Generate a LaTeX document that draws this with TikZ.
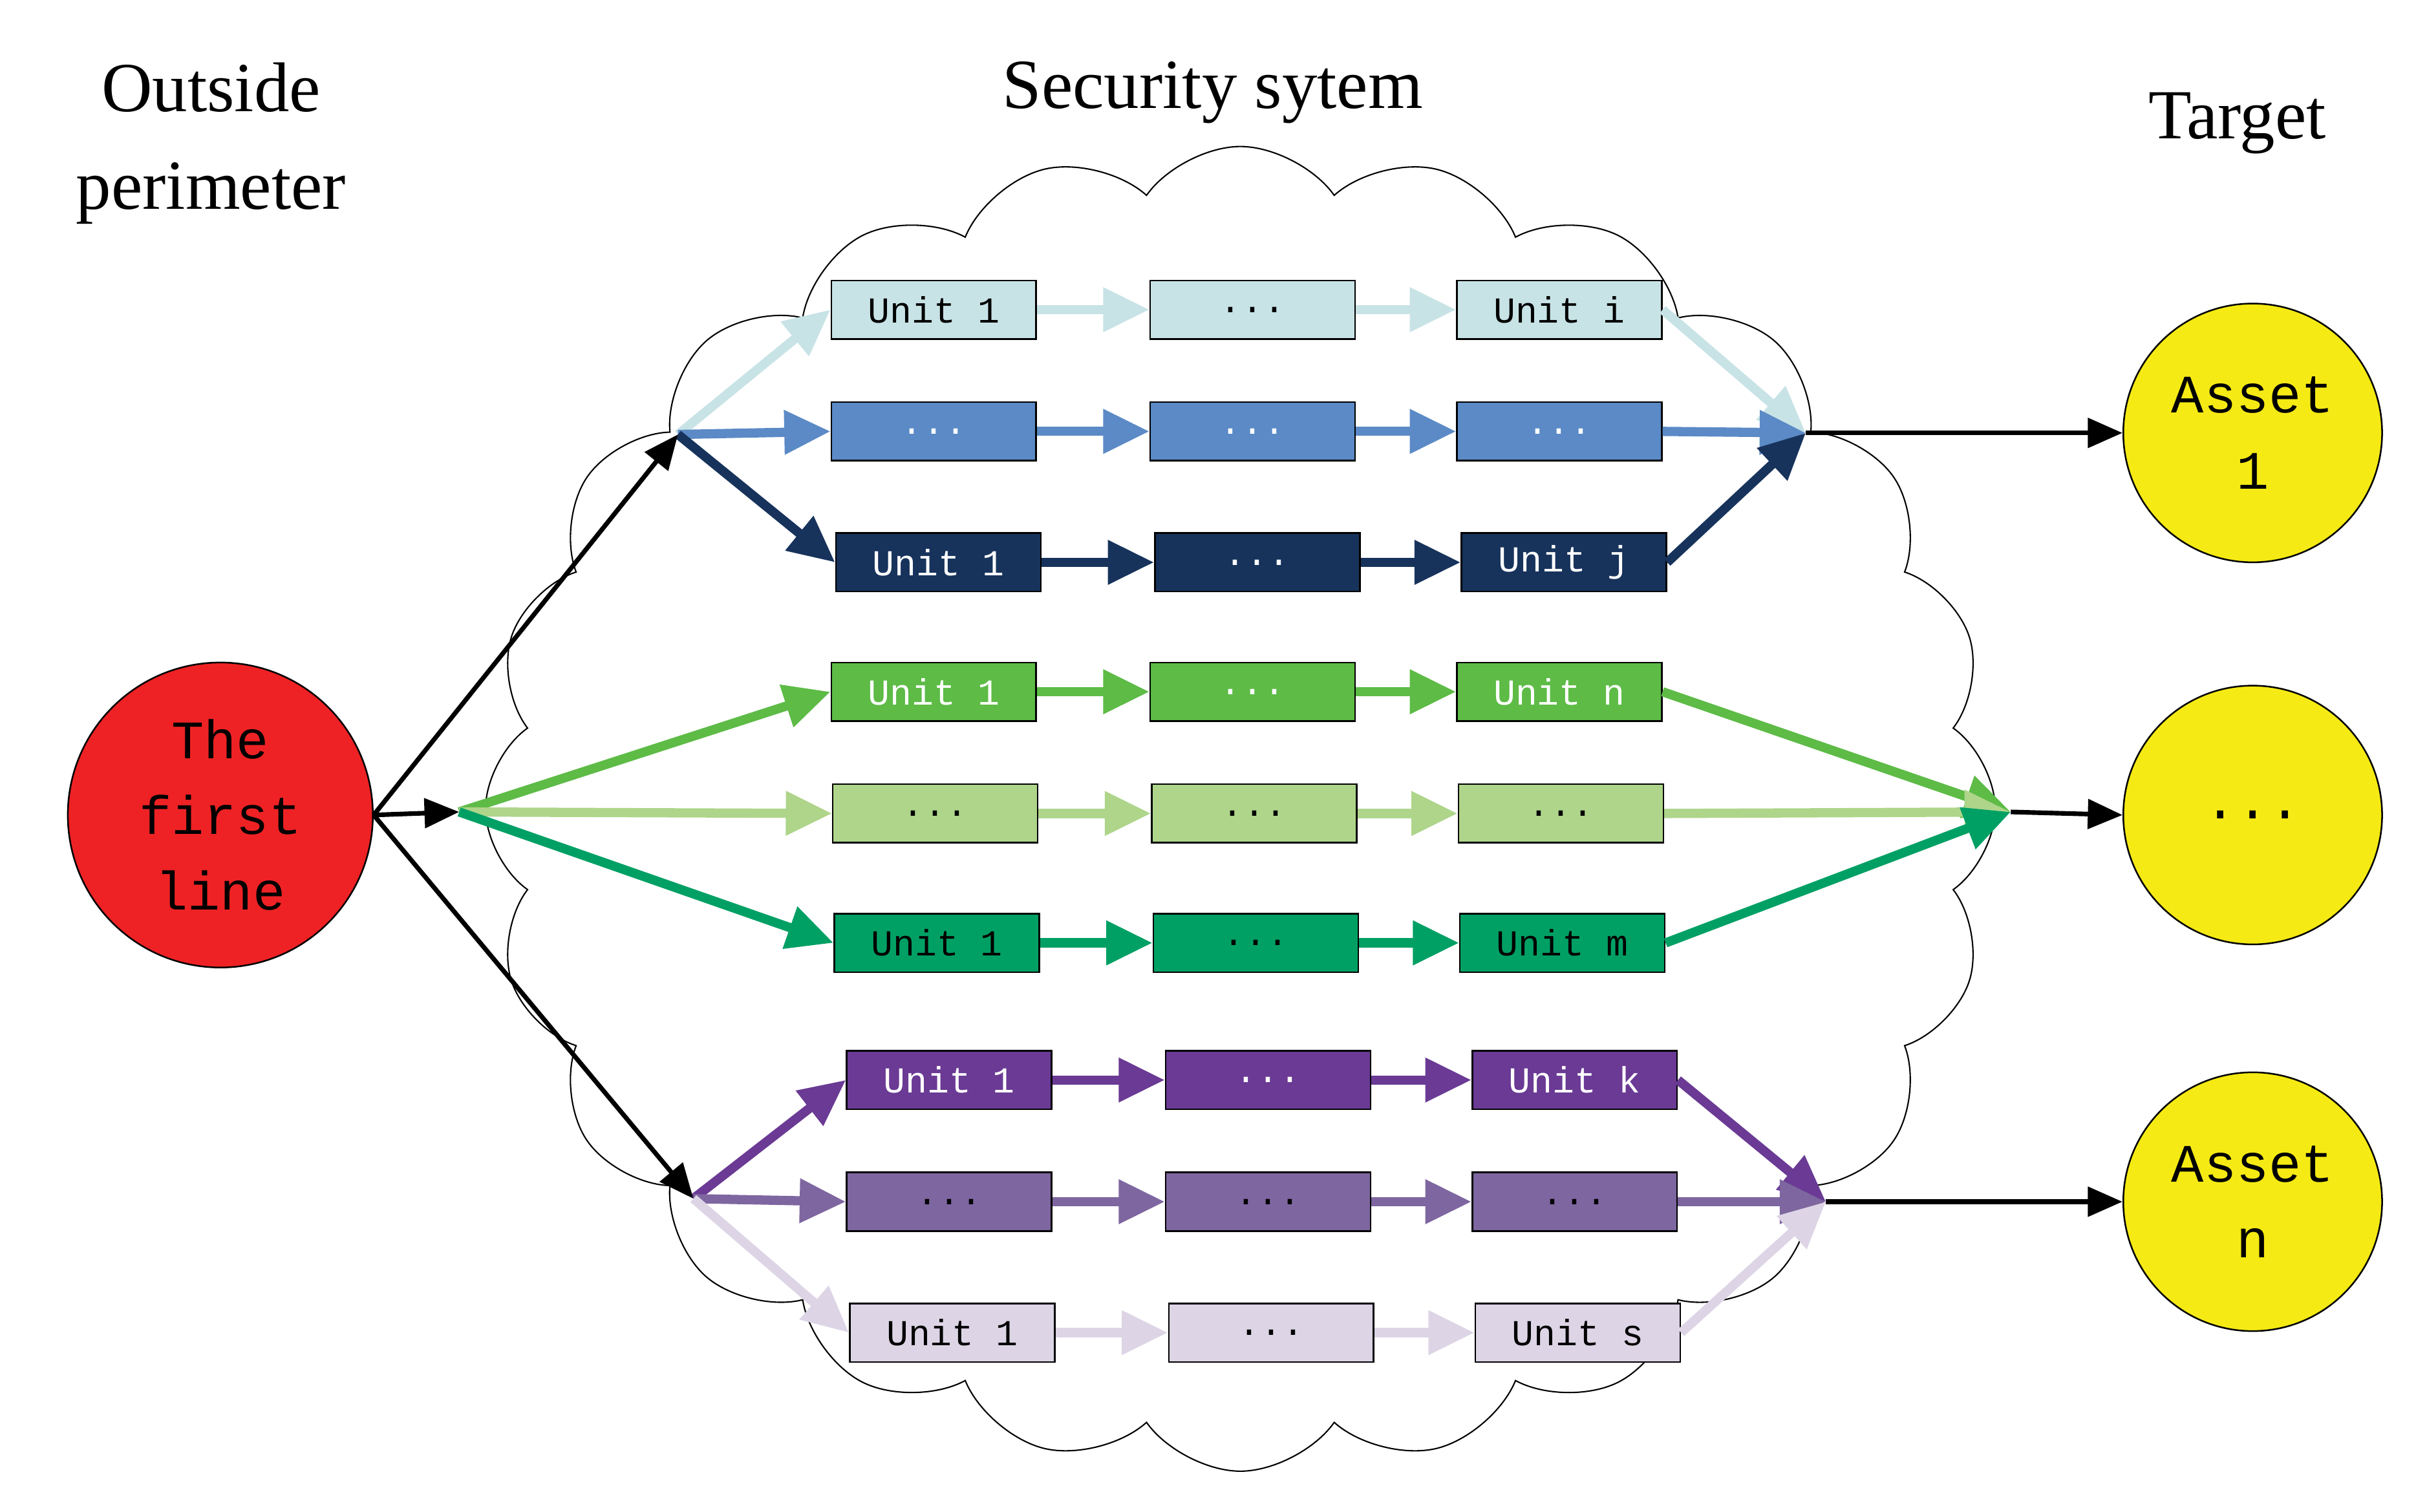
\documentclass[tikz,border=0pt]{standalone}
\usepackage{fontspec}
\setmainfont{Liberation Serif}
\newfontfamily\monof{Liberation Mono}
\usetikzlibrary{shapes.symbols,arrows.meta}
\newcommand{\dts}{...}
\definecolor{cA}{HTML}{C8E3E6}
\definecolor{cB}{HTML}{5B8AC6}
\definecolor{cC}{HTML}{17335C}
\definecolor{cD}{HTML}{5DBB46}
\definecolor{cE}{HTML}{AED58A}
\definecolor{cF}{HTML}{00A064}
\definecolor{cG}{HTML}{6A3A94}
\definecolor{cH}{HTML}{7E66A0}
\definecolor{cI}{HTML}{DDD5E6}
\definecolor{cRed}{HTML}{EE2224}
\definecolor{cYel}{HTML}{F5EA14}
\begin{document}
\begin{tikzpicture}[x=0.02cm,y=-0.02cm,
  box/.style={draw=black,line width=0.6pt,minimum width=2.66cm,minimum height=0.76cm,inner sep=0pt,font=\monof\fontsize{13.5}{16}\selectfont},
  arr/.style={line width=0.12cm,-{Triangle[length=0.6cm,width=0.55cm]}},
  blk/.style={line width=0.06cm,-{Triangle[length=0.45cm,width=0.38cm]}},
  title/.style={font=\fontsize{26}{36}\selectfont,align=center},
  circ/.style={circle,draw=black,line width=0.6pt,font=\monof\fontsize{20}{28}\selectfont,align=center,inner sep=0pt}]
\useasboundingbox (0,0) rectangle (1568,981);
\node[title] (t1) at (137,93) {Outside\\perimeter};
\node[title] (t2) at (787,60) {Security sytem};
\node[title] (t3) at (1452,80) {Target};
\node[cloud,draw=black,line width=0.5pt,cloud puffs=24,cloud puff arc=110,aspect=1.15,minimum width=19.6cm,minimum height=17.2cm] (cl) at (805,525) {};
\node[circ,fill=cRed,minimum size=3.96cm] (red) at (143,529) {The\\first\\line};
\node[circ,fill=cYel,minimum size=3.36cm] (a1) at (1462,281) {Asset\\1};
\node[circ,fill=cYel,minimum size=3.36cm] (a2) at (1462,529) {\dts};
\node[circ,fill=cYel,minimum size=3.36cm] (a3) at (1462,780) {Asset\\n};
\coordinate (bu) at (440,282);
\coordinate (bm) at (298,527);
\coordinate (bl) at (450,778);
\coordinate (mu) at (1172,281);
\coordinate (mm) at (1305,527);
\coordinate (ml) at (1185,780);
\foreach \r/\y/\dx/\c/\tc/\la/\lb/\lc/\m/\b in {
 1/201/0/cA/black/Unit 1/\dts/Unit i/mu/bu,
 2/280/0/cB/white/\dts/\dts/\dts/mu/bu,
 3/365/3/cC/white/Unit 1/\dts/Unit j/mu/bu,
 4/449/0/cD/white/Unit 1/\dts/Unit n/mm/bm,
 5/528/1/cE/black/\dts/\dts/\dts/mm/bm,
 6/612/2/cF/black/Unit 1/\dts/Unit m/mm/bm,
 7/701/10/cG/white/Unit 1/\dts/Unit k/ml/bl,
 8/780/10/cH/black/\dts/\dts/\dts/ml/bl,
 9/865/12/cI/black/Unit 1/\dts/Unit s/ml/bl}{
  \node[box,fill=\c,text=\tc] (r\r c1) at (606+\dx,\y) {\la};
  \node[box,fill=\c,text=\tc] (r\r c2) at (813+\dx,\y) {\lb};
  \node[box,fill=\c,text=\tc] (r\r c3) at (1012+\dx,\y) {\lc};
  \draw[arr,draw=\c,fill=\c] (r\r c1.east) -- (r\r c2.west);
  \draw[arr,draw=\c,fill=\c] (r\r c2.east) -- (r\r c3.west);
  \draw[arr,draw=\c,fill=\c] (\b) -- (r\r c1.west);
  \draw[arr,draw=\c,fill=\c] (r\r c3.east) -- (\m);
}
\draw[blk] (red.east) -- (bu);
\draw[blk] (red.east) -- (bm);
\draw[blk] (red.east) -- (bl);
\draw[blk] (mu) -- (a1.west);
\draw[blk] (mm) -- (a2.west);
\draw[blk] (ml) -- (a3.west);
\end{tikzpicture}
\end{document}
